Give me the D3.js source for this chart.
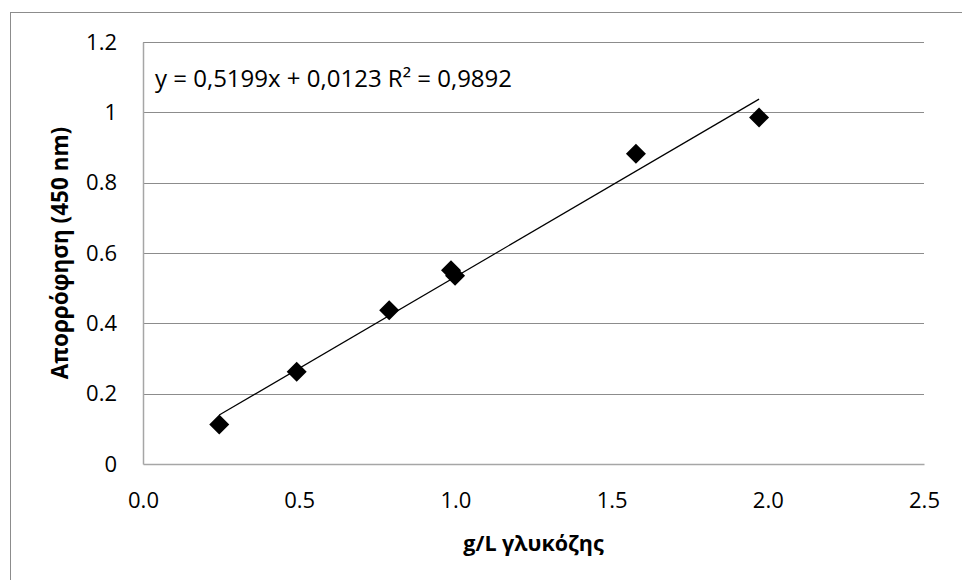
<!DOCTYPE html>
<html>
<head>
<meta charset="utf-8">
<script src="https://cdn.jsdelivr.net/npm/d3@7"></script>
<style>
  body { margin: 0; background: #fff; }
  text { font-family: "Open Sans", "Noto Sans", sans-serif; fill: #000; }
</style>
</head>
<body>
<div id="chart"></div>
<script>
// glucose (g/L) vs absorbance at 450 nm
var glucose = [0.244, 0.492, 0.788, 0.986, 0.999, 1.578, 1.972]
var absorbance = [0.112, 0.262, 0.437, 0.551, 0.535, 0.882, 0.9855]
var xTicks = [0, 0.5, 1.0, 1.5, 2.0, 2.5]
var yTicks = [0, 0.2, 0.4, 0.6, 0.8, 1, 1.2]
var trend = [0.5199, 0.0123] // slope, intercept
var trendLabel = 'y = 0,5199x + 0,0123 R² = 0,9892'

var width = 962
var height = 580
var margin = { left: 143, right: 38, top: 42, bottom: 116 }

var xScale = d3.scaleLinear().domain([0, 2.5]).range([margin.left, width - margin.right])
var yScale = d3.scaleLinear().domain([0, 1.2]).range([height - margin.bottom, margin.top])

var svg = d3.select('#chart').append('svg')
  .attr('width', width)
  .attr('height', height)

// outer chart border (runs off right/bottom edge)
svg.append('rect')
  .attr('x', 10.5).attr('y', 12.5)
  .attr('width', 1000).attr('height', 1000)
  .attr('fill', 'none').attr('stroke', '#8c8c8c')

// horizontal gridlines
svg.append('g')
  .selectAll('line')
  .data(yTicks.slice(1))
  .join('line')
  .attr('x1', xScale(0)).attr('x2', xScale(2.5))
  .attr('y1', d => Math.round(yScale(d)) + 0.5)
  .attr('y2', d => Math.round(yScale(d)) + 0.5)
  .attr('stroke', '#8c8c8c')

var yAxis = d3.axisLeft(yScale).tickValues(yTicks).tickSize(0).tickPadding(26)
  .tickFormat(d => d3.format('')(+d.toFixed(1)))
var xAxis = d3.axisBottom(xScale).tickValues(xTicks).tickSize(0).tickPadding(28)
  .tickFormat(d3.format('.1f'))

svg.append('g')
  .attr('transform', 'translate(' + margin.left + ',0)')
  .call(yAxis)
svg.append('g')
  .attr('transform', 'translate(0,' + (height - margin.bottom) + ')')
  .call(xAxis)

svg.selectAll('.domain').attr('stroke', '#a6a6a6').attr('stroke-width', 1.5)
svg.selectAll('.tick text')
  .style('font-family', '"Open Sans", sans-serif')
  .style('font-size', '22px')

// trendline over data range
var x0 = d3.min(glucose)
var x1 = d3.max(glucose)
svg.append('line')
  .attr('x1', xScale(x0)).attr('y1', yScale(trend[0] * x0 + trend[1]))
  .attr('x2', xScale(x1)).attr('y2', yScale(trend[0] * x1 + trend[1]))
  .attr('stroke', '#000').attr('stroke-width', 1.2)

// diamond markers
var pts = glucose.map((g, i) => [g, absorbance[i]])
svg.append('g')
  .selectAll('path')
  .data(pts)
  .join('path')
  .attr('d', d3.symbol(d3.symbolSquare, 200))
  .attr('transform', d => 'translate(' + xScale(d[0]) + ',' + yScale(d[1]) + ') rotate(45)')
  .attr('fill', '#000')

svg.append('text')
  .attr('x', 155).attr('y', 87)
  .style('font-size', '24px')
  .text(trendLabel)

svg.append('text')
  .attr('x', (xScale(0) + xScale(2.5)) / 2).attr('y', 551)
  .attr('text-anchor', 'middle')
  .style('font-size', '21.5px').style('font-weight', 'bold')
  .text('g/L γλυκόζης')

svg.append('text')
  .attr('transform', 'translate(68,' + (yScale(0.6)) + ') rotate(-90)')
  .attr('text-anchor', 'middle')
  .style('font-size', '22.5px').style('font-weight', 'bold')
  .text('Απορρόφηση (450 nm)')
</script>
</body>
</html>
